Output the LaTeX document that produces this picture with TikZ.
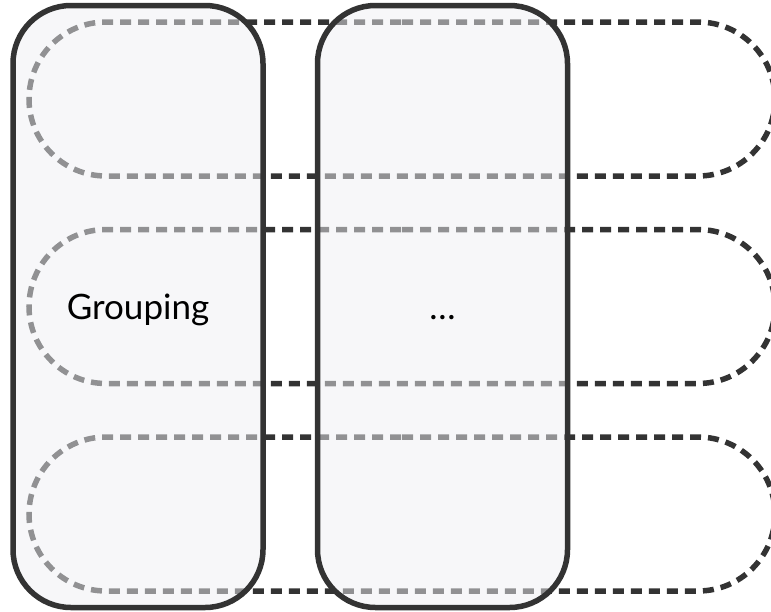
\documentclass[tikz,border=0pt]{standalone}
\usepackage{fontspec}
\setmainfont{Lato}
\usetikzlibrary{shapes.misc}
\definecolor{ink}{HTML}{333333}
\definecolor{colfill}{HTML}{EFF0F4}
\tikzset{
    lane/.style={rounded rectangle, draw=ink, line width=5.5pt,
        dash pattern=on 11pt off 7pt, minimum width=746pt,
        minimum height=154pt, inner sep=0pt},
    column/.style={rectangle, draw=ink, line width=5.5pt, rounded corners=58pt,
        fill=colfill, fill opacity=0.5, draw opacity=1,
        minimum width=250pt, minimum height=602pt, inner sep=0pt},
    tag/.style={font=\fontsize{35}{42}\selectfont, text=black, anchor=base}
}
\begin{document}
\begin{tikzpicture}[x=1pt,y=-1pt]
    \useasboundingbox (0,0) rectangle (771,611);
    \clip (0,0) rectangle (771,611);
    \coordinate (L1) at (402,99);
    \coordinate (L2) at (402,306.5);
    \coordinate (L3) at (402,514);
    \coordinate (C1) at (138,306.5);
    \coordinate (C2) at (442.5,306.5);
    % rows behind, columns on top
    \foreach \r in {1,2,3}
        \node[lane] (lane\r) at (L\r) {};
    \node[column] (grouping) at (C1) {};
    \node[column] (more) at (C2) {};
    \node[tag] (grouptxt) at (138,319) {Grouping};
    \node[tag] (moretxt) at (442.5,319) {…};
\end{tikzpicture}
\end{document}
